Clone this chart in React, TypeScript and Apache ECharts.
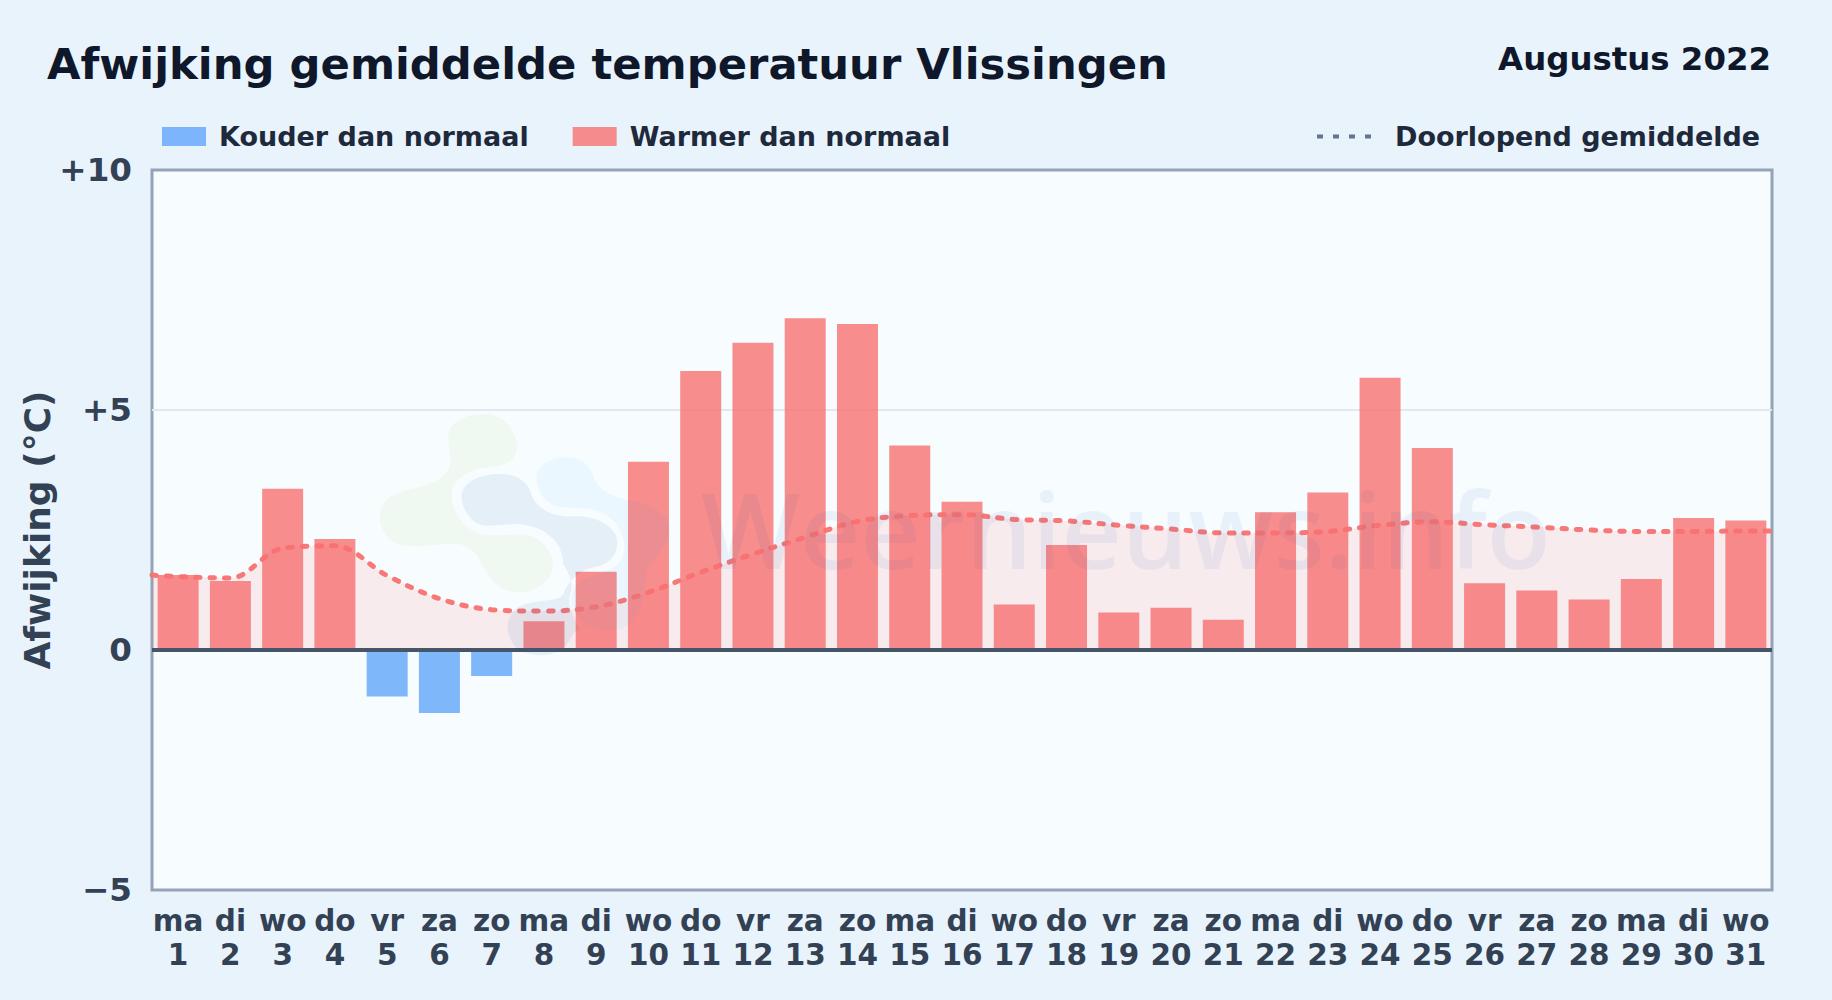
import React, { useEffect, useRef } from "react";
import * as echarts from "echarts";

const weekdays = ["ma","di","wo","do","vr","za","zo","ma","di","wo","do","vr","za","zo","ma","di","wo","do","vr","za","zo","ma","di","wo","do","vr","za","zo","ma","di","wo"];
const days = [1,2,3,4,5,6,7,8,9,10,11,12,13,14,15,16,17,18,19,20,21,22,23,24,25,26,27,28,29,30,31];
const deviations = [1.56,1.44,3.36,2.31,-0.97,-1.31,-0.54,0.6,1.63,3.92,5.81,6.4,6.91,6.79,4.26,3.09,0.95,2.19,0.78,0.88,0.63,2.87,3.28,5.67,4.21,1.39,1.24,1.05,1.48,2.75,2.7];
const runningMean = [1.53,1.5,2.12,2.17,1.55,1.07,0.84,0.81,0.9,1.2,1.62,2.0,2.35,2.68,2.8,2.82,2.72,2.69,2.6,2.52,2.44,2.44,2.47,2.6,2.67,2.61,2.56,2.5,2.47,2.47,2.48];
const runningMeanStart = 1.56;
const runningMeanEnd = 2.48;
const yTickLabels: Record<string, string> = { "10": "+10", "5": "+5", "0": "0", "-5": "\u22125" };

const FONT = "DejaVu Sans";
const COLD = "rgba(96,165,250,0.8)";
const WARM = "rgba(248,113,113,0.8)";

echarts.graphic.registerShape("wmGreen", echarts.graphic.extendPath(
  "M265,110 C265,60 330,40 380,42 C430,45 470,90 472,140 C472,175 445,195 400,200 C340,205 300,225 280,260 C265,300 290,370 345,395 C390,415 450,400 500,405 C550,415 580,460 580,500 C575,550 520,580 470,578 C420,575 390,540 365,490 C345,450 320,430 270,432 C220,435 170,445 120,435 C75,420 55,380 60,340 C65,300 100,280 150,268 C200,258 245,245 265,210 C280,180 265,150 265,110 Z",
  {}) as any);
echarts.graphic.registerShape("wmDark", echarts.graphic.extendPath(
  "M305,285 C310,245 360,222 420,222 C470,222 505,245 515,285 C530,325 575,350 630,350 C690,345 750,365 770,410 C780,450 760,490 710,500 C660,510 625,540 610,585 C590,610 520,595 470,625 C440,650 430,700 470,745 C510,775 590,775 620,735 C640,710 640,690 660,690 C640,650 620,610 632,580 C650,545 600,480 610,490 C610,430 560,380 480,372 C430,372 390,385 350,370 C320,350 305,320 305,285 Z",
  {}) as any);
echarts.graphic.registerShape("wmLight", echarts.graphic.extendPath(
  "M530,235 C530,190 580,170 630,172 C670,175 695,205 705,240 C725,280 770,295 830,305 C890,320 935,350 930,400 C925,440 880,470 860,520 C855,590 850,650 790,685 C740,700 680,690 650,645 C625,610 630,570 660,545 C700,525 760,515 785,480 C805,440 790,380 740,345 C700,320 650,325 600,322 C555,310 530,275 530,235 Z",
  {}) as any);

export default function App() {
  const ref = useRef<HTMLDivElement>(null);
  useEffect(() => {
    const chart = echarts.init(ref.current!, undefined, { renderer: "svg" });
    const categories = weekdays.map((w, i) => `${w}\n${days[i]}`);
    const linePoints: [number, number][] = [
      [-0.5, runningMeanStart],
      ...runningMean.map((v, i) => [i, v] as [number, number]),
      [30.5, runningMeanEnd],
    ];
    chart.setOption({
      animation: false,
      backgroundColor: "#e8f3fc",
      title: [
        { text: "Afwijking gemiddelde temperatuur Vlissingen", left: 47, top: 42, padding: 0,
          textStyle: { fontFamily: FONT, fontWeight: "bold", fontSize: 43.3, color: "#0f172a" } },
        { text: "Augustus 2022", right: 61, top: 43, padding: 0,
          textStyle: { fontFamily: FONT, fontWeight: "bold", fontSize: 32.4, color: "#0f172a" } },
      ],
      legend: [
        { left: 162, top: 123, padding: 0, itemWidth: 44, itemHeight: 19, itemGap: 44, icon: "rect",
          data: ["Kouder dan normaal", "Warmer dan normaal"],
          selectedMode: false,
          textStyle: { fontFamily: FONT, fontWeight: "bold", fontSize: 27, color: "#1e293b", padding: [0, 0, 0, 8] } },
        { left: 1315, top: 123, padding: 0, itemWidth: 54, itemHeight: 19,
          data: ["Doorlopend gemiddelde"],
          selectedMode: false,
          itemStyle: { opacity: 0, color: "transparent" },
          lineStyle: { color: "#64748b", width: 4, type: [6, 10], cap: "butt", opacity: 1 },
          textStyle: { fontFamily: FONT, fontWeight: "bold", fontSize: 27, color: "#1e293b", padding: [0, 0, 0, 19] } },
      ],
      grid: { left: 152, right: 60, top: 170, bottom: 110, containLabel: false, show: true,
        backgroundColor: "#f7fcff", borderColor: "#94a3b8", borderWidth: 3 },
      xAxis: [
        { type: "category", data: categories, position: "bottom", boundaryGap: true,
          axisLine: { show: false, onZero: false }, axisTick: { show: false },
          axisLabel: { interval: 0, margin: 14, hideOverlap: false, fontFamily: FONT, fontWeight: "bold",
            fontSize: 29.5, lineHeight: 34, color: "#334155" } },
        { type: "value", min: -0.5, max: 30.5, show: false },
      ],
      yAxis: {
        type: "value", min: -5, max: 10, interval: 5,
        name: "Afwijking (\u00b0C)", nameLocation: "middle", nameRotate: 90, nameGap: 97, nameMoveOverlap: false,
        nameTextStyle: { fontFamily: FONT, fontWeight: "bold", fontSize: 36, color: "#334155" },
        axisLine: { show: false }, axisTick: { show: false },
        axisLabel: { margin: 20, fontFamily: FONT, fontWeight: "bold", fontSize: 32.6, color: "#334155",
          formatter: (v: number) => yTickLabels[String(v)] ?? String(v) },
        splitLine: { show: true, showMinLine: false, showMaxLine: false, lineStyle: { color: "#e2e8f0", width: 2 } },
      },
      series: [
        { name: "Gemiddelde vlak", type: "line", xAxisIndex: 1, data: linePoints, smooth: 0.35, symbol: "none",
          z: 1, lineStyle: { width: 0 }, areaStyle: { color: "rgba(248,113,113,0.17)" } },
        { name: "Kouder dan normaal", type: "bar", xAxisIndex: 0, z: 2, barWidth: 41, barGap: "-100%",
          data: deviations.map((v) => (v < 0 ? v : null)), itemStyle: { color: COLD } },
        { name: "Warmer dan normaal", type: "bar", xAxisIndex: 0, z: 2, barWidth: 41, barGap: "-100%",
          data: deviations.map((v) => (v >= 0 ? v : null)), itemStyle: { color: WARM },
          markLine: { silent: true, symbol: "none", label: { show: false }, animation: false,
            lineStyle: { color: "#475569", width: 4, type: "solid" }, data: [{ yAxis: 0 }] } },
        { name: "Doorlopend gemiddelde", type: "line", xAxisIndex: 1, data: linePoints, smooth: 0.35, symbol: "none",
          z: 3, lineStyle: { color: "#f87171", width: 5, type: [4.5, 10], cap: "round", opacity: 0.95 } },
      ],
      graphic: { elements: [
        { type: "wmGreen", x: 360, y: 400, scaleX: 1 / 3, scaleY: 1 / 3, z: 50, silent: true, style: { fill: "rgba(132,204,22,0.06)" } },
        { type: "wmDark", x: 360, y: 400, scaleX: 1 / 3, scaleY: 1 / 3, z: 50, silent: true, style: { fill: "rgba(30,90,160,0.08)" } },
        { type: "wmLight", x: 360, y: 400, scaleX: 1 / 3, scaleY: 1 / 3, z: 50, silent: true, style: { fill: "rgba(14,165,233,0.05)" } },
        { type: "text", x: 701, y: 476, z: 50, silent: true,
          style: { text: "Weernieuws.info", fontFamily: "Open Sans", fontWeight: 600, fontSize: 104.7, fill: "rgba(30,90,160,0.065)" } },
      ] },
    });
    return () => chart.dispose();
  }, []);
  return <div ref={ref} style={{ position: "absolute", left: 0, top: 0, width: 1832, height: 1000 }} />;
}
